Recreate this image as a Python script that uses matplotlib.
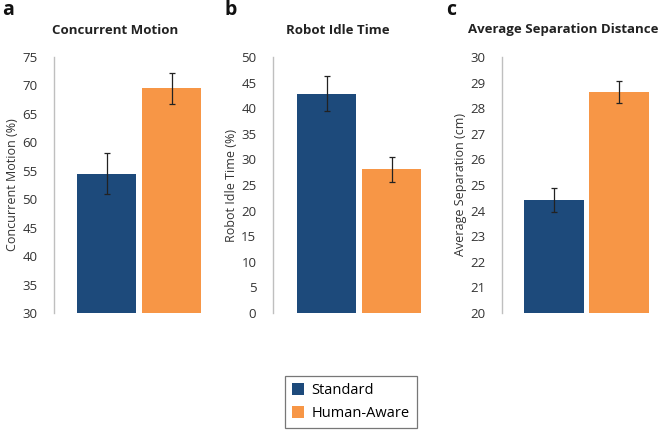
import matplotlib.pyplot as plt

plt.rcParams['font.family'] = ['Open Sans', 'DejaVu Sans']

groups = ['Standard', 'Human-Aware']
colors = ['#1d4a7b', '#f79646']

titles = ['Concurrent Motion', 'Robot Idle Time', 'Average Separation Distance']
ylabels = ['Concurrent Motion (%)', 'Robot Idle Time (%)', 'Average Separation (cm)']
letters = ['a', 'b', 'c']

means_a = [54.5, 69.5]
errs_a = [3.6, 2.7]
means_b = [42.8, 28.1]
errs_b = [3.4, 2.45]
means_c = [24.42, 28.64]
errs_c = [0.48, 0.44]

ylims = [(30, 75), (0, 50), (20, 30)]
ysteps = [5, 5, 1]

W, H = 659, 433
fig = plt.figure(figsize=(W / 100, H / 100), dpi=100)

# pixel layout: axis x, first bar centre, title centre, letter x
panels = [(54, 106.5, 115, 2), (273, 326.5, 338, 224), (502, 554, 563, 446)]
top, bottom = 57, 313
spacing = 65.0
ax_w = 150

data = [(means_a, errs_a), (means_b, errs_b), (means_c, errs_c)]
for i, (ax_x, c0, tx, lx) in enumerate(panels):
    ax = fig.add_axes([ax_x / W, 1 - bottom / H, ax_w / W, (bottom - top) / H])
    m, e = data[i]
    bars = ax.bar([0, 1], m, width=0.91, color=colors, yerr=e,
                  error_kw=dict(ecolor='#222222', elinewidth=0.9, capsize=2.5, capthick=0.9))
    lo, hi = ylims[i]
    ax.set_ylim(lo, hi)
    step = ysteps[i]
    ax.set_yticks([lo + k * step for k in range(int(round((hi - lo) / step)) + 1)])
    x0 = -(c0 - ax_x) / spacing
    ax.set_xlim(x0, x0 + ax_w / spacing)
    ax.set_xticks([])
    for s in ['top', 'right', 'bottom']:
        ax.spines[s].set_visible(False)
    ax.spines['left'].set_color('#bfbfbf')
    ax.spines['left'].set_linewidth(1.0)
    ax.tick_params(axis='y', length=0, pad=12, labelsize=9.5, labelcolor='#333333')
    ax.set_ylabel(ylabels[i], fontsize=9, color='#333333', labelpad=2)
    fig.text(tx / W, 1 - 30 / H, titles[i], ha='center', va='center',
             fontsize=9.5, fontweight='bold', color='#222222')
    fig.text(lx / W, 1 - 10 / H, letters[i], ha='left', va='center',
             fontsize=14, fontweight='bold', color='#111111')
    if i == 0:
        handles = bars

leg = fig.legend(handles, groups, loc='center', bbox_to_anchor=(351 / W, 1 - 402 / H),
                 fontsize=10.5, frameon=True, fancybox=False, edgecolor='#555555',
                 handlelength=0.8, handleheight=0.8, handletextpad=0.5, borderpad=0.5,
                 labelspacing=0.55)
leg.get_frame().set_linewidth(0.9)

fig.savefig('out.png', dpi=100)
